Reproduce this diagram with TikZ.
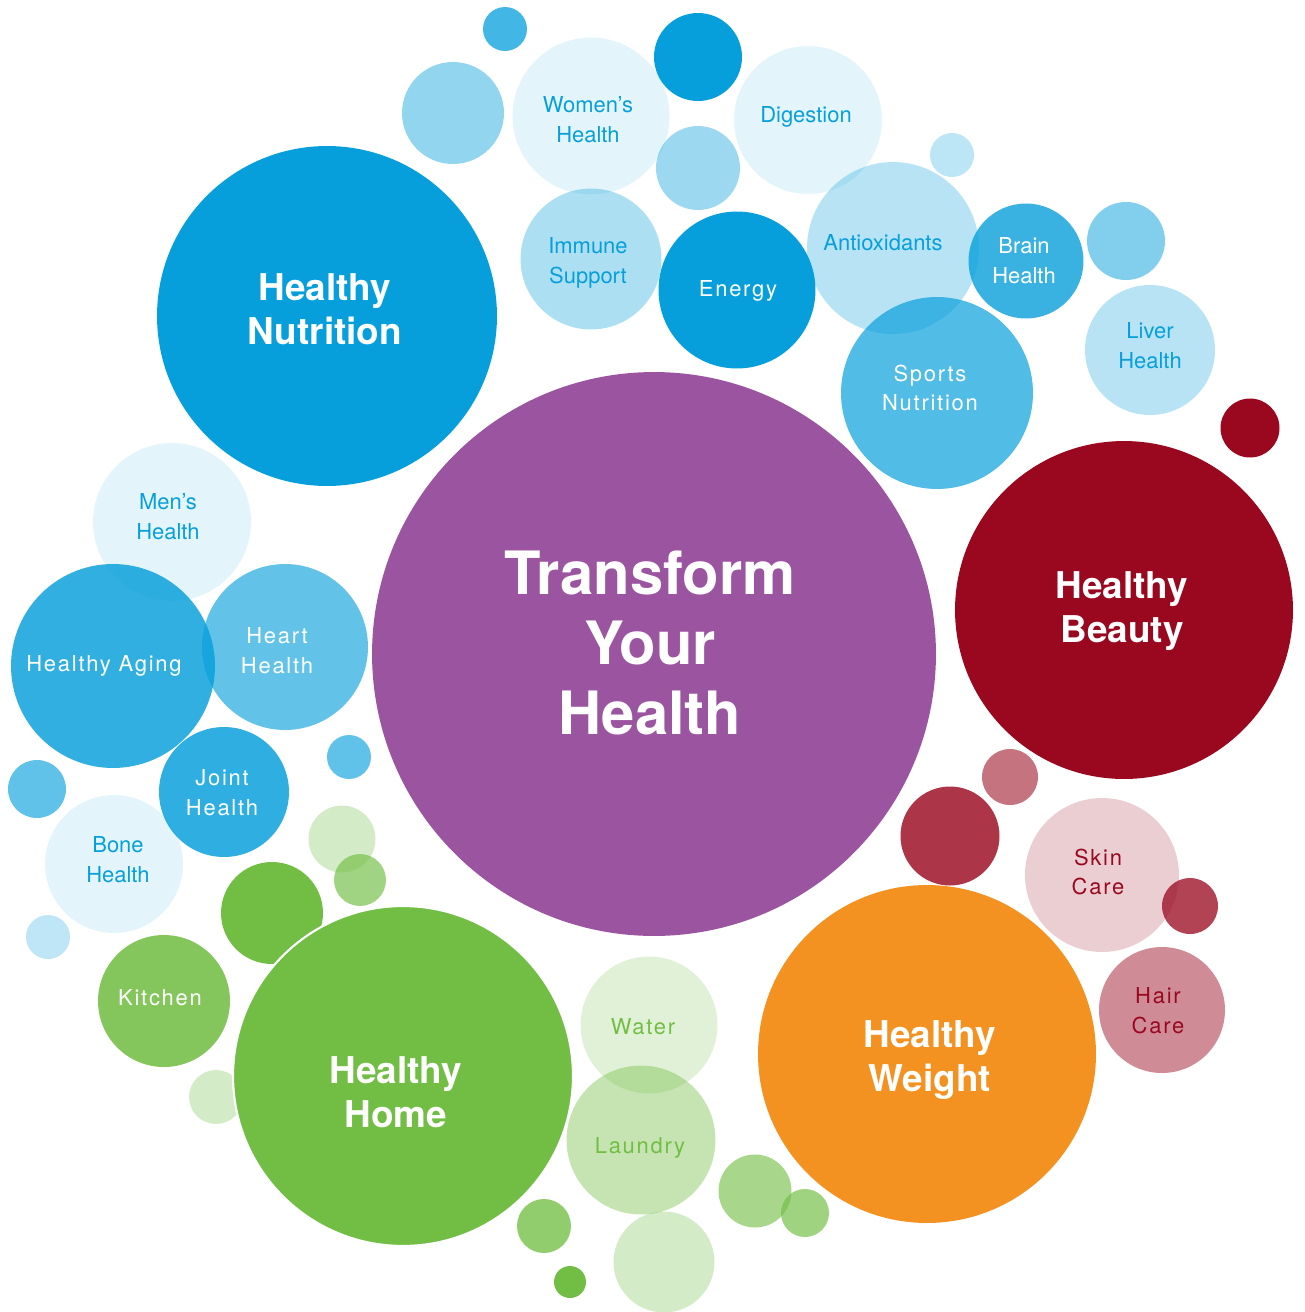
\documentclass[tikz,border=0pt]{standalone}
\usepackage{fontspec}
\setmainfont{TeX Gyre Heros}
\usepackage{tikz}

\definecolor{cpurple}{HTML}{9B55A0}
\definecolor{cblue}{HTML}{079FDB}
\definecolor{cred}{HTML}{9A0820}
\definecolor{corange}{HTML}{F39220}
\definecolor{cgreen}{HTML}{72BE44}

\tikzset{
  bub/.style={circle, inner sep=0pt, draw=none},
  smalltxt/.style={align=center, inner sep=0pt, font=\fontsize{12.5}{17}\selectfont},
  widetxt/.style={smalltxt, font=\fontsize{12.5}{17}\selectfont\addfontfeature{LetterSpace=8}},
  bigtxt/.style={align=center, inner sep=0pt, text=white, font=\bfseries\fontsize{21}{25}\selectfont},
}

\begin{document}
\begin{tikzpicture}[x=0.02cm, y=-0.02cm]
             \useasboundingbox (0,0) rectangle (1305,1312);

             % nutrition cluster
             \node[bub, fill=cblue, fill opacity=.76, minimum size=0.88cm] (b1) at (505,29) {};
             \node[bub, fill=cblue, fill opacity=.44, minimum size=2.04cm] (b2) at (453,113) {};
             \node[bub, fill=cblue, fill opacity=.11, minimum size=3.14cm] (women) at (591,116) {};
             \node[bub, fill=cblue, minimum size=1.76cm] (b3) at (698,57) {};
             \node[bub, fill=cblue, fill opacity=.11, minimum size=2.96cm] (digest) at (808,120) {};
             \node[bub, fill=cblue, fill opacity=.40, minimum size=1.68cm] (b4) at (698,168) {};
             \node[bub, fill=cblue, fill opacity=.27, minimum size=0.88cm] (b5) at (952,155) {};
             \node[bub, fill=cblue, fill opacity=.33, minimum size=2.82cm] (immune) at (591,259) {};
             \node[bub, fill=cblue, minimum size=3.14cm] (energy) at (737,290) {};
             \node[bub, fill=cblue, fill opacity=.29, minimum size=3.44cm] (antiox) at (893,248) {};
             \node[bub, fill=cblue, fill opacity=.80, minimum size=2.30cm] (brain) at (1026,261) {};
             \node[bub, fill=cblue, fill opacity=.51, minimum size=1.56cm] (b6) at (1126,241) {};
             \node[bub, fill=cblue, fill opacity=.29, minimum size=2.60cm] (liver) at (1150,350) {};
             \node[bub, fill=cblue, fill opacity=.70, minimum size=3.84cm] (sports) at (937,393) {};
             \node[bub, fill=cblue, minimum size=6.8cm] (nutrition) at (327,316) {};

             % aging cluster
             \node[bub, fill=cblue, fill opacity=.11, minimum size=3.16cm] (men) at (172,522) {};
             \node[bub, fill=cblue, fill opacity=.83, minimum size=4.08cm] (aging) at (113,666) {};
             \node[bub, fill=cblue, fill opacity=.63, minimum size=3.32cm] (heart) at (285,647) {};
             \node[bub, fill=cblue, fill opacity=.64, minimum size=0.88cm] (b7) at (349,757) {};
             \node[bub, fill=cblue, fill opacity=.84, minimum size=2.60cm] (joint) at (224,792) {};
             \node[bub, fill=cblue, fill opacity=.64, minimum size=1.16cm] (b8) at (37,789) {};
             \node[bub, fill=cblue, fill opacity=.11, minimum size=2.76cm] (bone) at (114,864) {};
             \node[bub, fill=cblue, fill opacity=.26, minimum size=0.88cm] (b9) at (48,937) {};

             % home cluster
             \node[bub, fill=cgreen, fill opacity=.30, minimum size=1.34cm] (g1) at (342,839) {};
             \node[bub, fill=cgreen, fill opacity=.67, minimum size=1.04cm] (g2) at (360,880) {};
             \node[bub, fill=cgreen, minimum size=2.04cm] (g3) at (272,913) {};
             \node[bub, fill=cgreen, fill opacity=.87, minimum size=2.64cm] (kitchen) at (164,1001) {};
             \node[bub, fill=cgreen, fill opacity=.30, minimum size=1.08cm] (g4) at (216,1097) {};
             \node[bub, fill=cgreen, draw=white, line width=1.2pt, minimum size=6.8cm] (home) at (403,1076) {};
             \node[bub, fill=cgreen, fill opacity=.21, minimum size=2.74cm] (water) at (649,1025) {};
             \node[bub, fill=cgreen, fill opacity=.41, minimum size=2.98cm] (laundry) at (641,1140) {};
             \node[bub, fill=cgreen, fill opacity=.62, minimum size=1.46cm] (g5) at (755,1191) {};
             \node[bub, fill=cgreen, fill opacity=.68, minimum size=0.96cm] (g6) at (805,1213) {};
             \node[bub, fill=cgreen, fill opacity=.78, minimum size=1.08cm] (g7) at (544,1226) {};
             \node[bub, fill=cgreen, minimum size=0.64cm] (g8) at (570,1282) {};
             \node[bub, fill=cgreen, fill opacity=.30, minimum size=2.02cm] (g9) at (664,1262) {};

             % beauty cluster
             \node[bub, fill=cred, minimum size=1.18cm] (r1) at (1250,428) {};
             \node[bub, fill=cred, minimum size=6.76cm] (beauty) at (1124,610) {};
             \node[bub, fill=cred, fill opacity=.57, minimum size=1.12cm] (r2) at (1010,777) {};
             \node[bub, fill=cred, fill opacity=.82, minimum size=1.98cm] (r3) at (950,836) {};
             \node[bub, fill=cred, fill opacity=.20, minimum size=3.08cm] (skin) at (1102,875) {};
             \node[bub, fill=cred, fill opacity=.76, minimum size=1.12cm] (r4) at (1190,906) {};
             \node[bub, fill=cred, fill opacity=.47, minimum size=2.52cm] (hair) at (1162,1010) {};

             \node[bub, fill=corange, minimum size=6.76cm] (weight) at (927,1054) {};
             \node[bub, fill=cpurple, minimum size=11.28cm] (transform) at (654,654) {};

             % labels
             \node[bigtxt, font=\bfseries\fontsize{34}{40}\selectfont] (ttransform) at (650,643) {Transform\\Your\\Health};
             \node[bigtxt] (tnutrition) at (325,309) {Healthy\\Nutrition};
             \node[bigtxt] (tbeauty) at (1122,611) {Healthy\\Beauty};
             \node[bigtxt] (tweight) at (930,1060) {Healthy\\Weight};
             \node[bigtxt] (thome) at (396,1092) {Healthy\\Home};

             \node[smalltxt, text=cblue] (twomen) at (588,120) {Women’s\\Health};
             \node[smalltxt, text=cblue] (tdigest) at (806,117) {Digestion};
             \node[smalltxt, text=cblue] (timmune) at (588,263) {Immune\\Support};
             \node[widetxt, text=white] (tenergy) at (738,291) {Energy};
             \node[smalltxt, text=cblue] (tantiox) at (883,243) {Antioxidants};
             \node[smalltxt, text=white] (tbrain) at (1024,261) {Brain\\Health};
             \node[smalltxt, text=cblue] (tliver) at (1150,346) {Liver\\Health};
             \node[widetxt, text=white] (tsports) at (930,388) {Sports\\Nutrition};
             \node[smalltxt, text=cblue] (tmen) at (168,517) {Men’s\\Health};
             \node[widetxt, text=white] (taging) at (104,666) {Healthy Aging};
             \node[widetxt, text=white] (theart) at (277,651) {Heart\\Health};
             \node[widetxt, text=white] (tjoint) at (222,793) {Joint\\Health};
             \node[smalltxt, text=cblue] (tbone) at (118,860) {Bone\\Health};
             \node[widetxt, text=white] (tkitchen) at (160,998) {Kitchen};
             \node[widetxt, text=cgreen] (twater) at (643,1027) {Water};
             \node[widetxt, text=cgreen] (tlaundry) at (640,1148) {Laundry};
             \node[widetxt, text=cred] (tskin) at (1098,872) {Skin\\Care};
             \node[widetxt, text=cred] (thair) at (1158,1011) {Hair\\Care};
\end{tikzpicture}
\end{document}
